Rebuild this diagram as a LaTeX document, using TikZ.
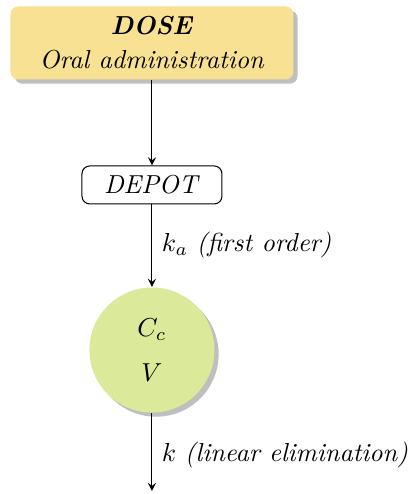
\documentclass[tikz,border=0pt]{standalone}
\usetikzlibrary{shadows,arrows}
\definecolor{doseyellow}{HTML}{F8E193}
\definecolor{compgreen}{HTML}{DAE99A}
\tikzset{
  dosebox/.style={rectangle, rounded corners=3pt, fill=doseyellow, align=center,
    minimum width=3.825cm, minimum height=0.987cm,
    drop shadow={shadow xshift=1.6pt, shadow yshift=-1.6pt, fill=black!25, opacity=1}},
  depotbox/.style={rectangle, rounded corners=3pt, draw, fill=white,
    minimum width=1.892cm, minimum height=0.514cm},
  centralcomp/.style={circle, fill=compgreen, align=center, minimum size=1.69cm,
    drop shadow={shadow xshift=1.6pt, shadow yshift=-1.6pt, fill=black!25, opacity=1}},
  flow/.style={-stealth}
}
\begin{document}
\begin{tikzpicture}
\useasboundingbox (0,0) rectangle (5.596,6.677);
\node[dosebox] (dose) at (2.054,6.096) {\textbf{\textit{DOSE}}\\[1pt] \textit{Oral administration}};
\node[depotbox] (depot) at (2.054,4.177) {\textit{DEPOT}};
\node[centralcomp] (central) at (2.054,1.946) {$C_c$\\[5pt] $V$};
\coordinate (out) at (2.054,0.04);
\draw[flow] (dose) -- (depot);
\draw[flow] (depot) -- (central);
\draw[flow] (central) -- (out);
\node[anchor=west] (ka) at (2.065,3.366) {$k_a$ \textit{(first order)}};
\node[anchor=west] (kel) at (2.065,0.527) {$k$ \textit{(linear elimination)}};
\end{tikzpicture}
\end{document}
